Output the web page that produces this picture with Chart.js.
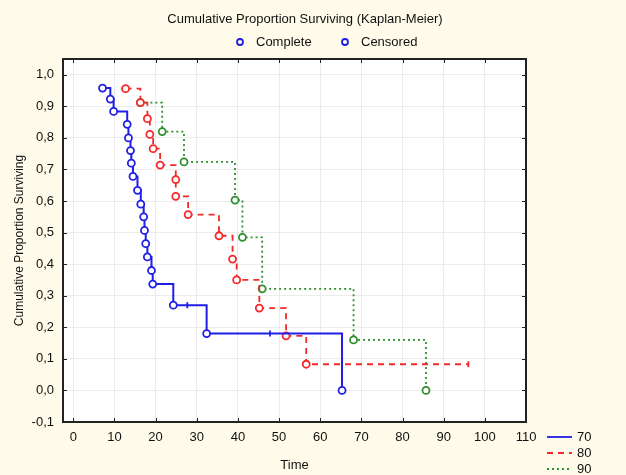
<!DOCTYPE html>
<html>
<head>
<meta charset="utf-8">
<script src="https://cdn.jsdelivr.net/npm/chart.js@4.4.1/dist/chart.umd.min.js"></script>
<style>
  html, body { margin: 0; padding: 0; background: #fffbea; }
  #wrap { width: 626px; height: 475px; position: relative; }
</style>
</head>
<body>
<div id="wrap"><canvas id="kmChart"></canvas></div>
<script>
// survival estimates (time, cumulative proportion, 1 = complete / 0 = censored)
const times70 = [7.1, 9.0, 9.8, 13.1, 13.4, 13.9, 14.1, 14.5, 15.6, 16.4, 17.1, 17.3, 17.6, 18.0, 19.0, 19.3, 24.3, 27.7, 32.4, 47.8, 65.3];
const surv70 = [0.958, 0.923, 0.884, 0.843, 0.80, 0.76, 0.72, 0.678, 0.634, 0.59, 0.55, 0.507, 0.465, 0.423, 0.38, 0.337, 0.27, 0.27, 0.18, 0.18, 0.0];
const status70 = [1, 1, 1, 1, 1, 1, 1, 1, 1, 1, 1, 1, 1, 1, 1, 1, 1, 0, 1, 0, 1];

const times80 = [12.7, 16.3, 18.0, 18.6, 19.4, 21.1, 24.9, 24.9, 27.9, 35.4, 38.7, 39.7, 45.2, 51.7, 56.6, 96.0];
const surv80 = [0.956, 0.912, 0.861, 0.811, 0.766, 0.714, 0.668, 0.615, 0.557, 0.49, 0.416, 0.35, 0.261, 0.173, 0.083, 0.083];
const status80 = [1, 1, 1, 1, 1, 1, 1, 1, 1, 1, 1, 1, 1, 1, 1, 0];

const times90 = [16.3, 21.6, 26.9, 39.3, 41.1, 45.9, 68.1, 85.7];
const surv90 = [0.912, 0.82, 0.724, 0.603, 0.485, 0.322, 0.16, 0.0];
const status90 = [1, 1, 1, 1, 1, 1, 1, 1];

const groupNames = ['70', '80', '90'];
const xTicks = [0, 10, 20, 30, 40, 50, 60, 70, 80, 90, 100, 110];
const yTicks = [-0.1, 0.0, 0.1, 0.2, 0.3, 0.4, 0.5, 0.6, 0.7, 0.8, 0.9, 1.0];
const yTickLabels = ['-0,1', '0,0', '0,1', '0,2', '0,3', '0,4', '0,5', '0,6', '0,7', '0,8', '0,9', '1,0'];

const FONT = 'Arial, "Liberation Sans", sans-serif';
const colors = ['#1f1fe6', '#f42828', '#2f8f2f'];
const dashes = [[], [6, 5], [2, 3]];

function makeSet(i, times, surv, status) {
    return {
        label: groupNames[i],
        data: times.map((t, k) => ({ x: t, y: surv[k] })),
        stepped: 'before',
        borderColor: colors[i],
        borderWidth: i === 0 ? 2 : 1.8,
        borderDash: dashes[i],
        pointStyle: status.map(s => s ? 'circle' : 'line'),
        pointRotation: status.map(s => s ? 0 : 90),
        pointRadius: status.map(s => s ? 3.5 : 3),
        pointBorderWidth: 1.8,
        pointBorderColor: colors[i],
        pointBackgroundColor: '#ffffff',
        fill: false
    };
}

const datasets = [
    makeSet(0, times70, surv70, status70),
    makeSet(1, times80, surv80, status80),
    makeSet(2, times90, surv90, status90)
];

// white plot area, frame with inward ticks, title and both legends
const decorPlugin = {
    id: 'decor',
    beforeDraw(chart) {
        const { ctx, chartArea: a } = chart;
        ctx.save();
        ctx.fillStyle = '#ffffff';
        ctx.fillRect(a.left, a.top, a.right - a.left, a.bottom - a.top);
        ctx.restore();
    },
    afterDraw(chart) {
        const { ctx, chartArea: a, scales } = chart;
        ctx.save();
        ctx.strokeStyle = '#222';
        ctx.lineWidth = 1;
        xTicks.forEach(v => {
            const px = Math.round(scales.x.getPixelForValue(v)) + 0.5;
            ctx.beginPath();
            ctx.moveTo(px, a.bottom); ctx.lineTo(px, a.bottom - 4);
            ctx.moveTo(px, a.top); ctx.lineTo(px, a.top + 4);
            ctx.stroke();
        });
        yTicks.forEach(v => {
            const py = Math.round(scales.y.getPixelForValue(v)) + 0.5;
            ctx.beginPath();
            ctx.moveTo(a.left, py); ctx.lineTo(a.left + 4, py);
            ctx.moveTo(a.right, py); ctx.lineTo(a.right - 4, py);
            ctx.stroke();
        });
        ctx.lineWidth = 2;
        ctx.strokeRect(a.left, a.top, a.right - a.left, a.bottom - a.top);

        ctx.fillStyle = '#111';
        ctx.font = '13px ' + FONT;
        ctx.textAlign = 'center';
        ctx.textBaseline = 'middle';
        ctx.fillText('Cumulative Proportion Surviving (Kaplan-Meier)', 305, 19);

        // top legend: point symbols
        ctx.textAlign = 'left';
        [['Complete', 240], ['Censored', 345]].forEach(([txt, x]) => {
            ctx.beginPath();
            ctx.arc(x, 42, 3, 0, Math.PI * 2);
            ctx.strokeStyle = colors[0];
            ctx.lineWidth = 1.8;
            ctx.stroke();
            ctx.fillText(txt, x + 16, 42);
        });

        // right legend: line styles per group
        datasets.forEach((ds, i) => {
            const y = 437 + i * 16;
            ctx.beginPath();
            ctx.setLineDash(dashes[i]);
            ctx.strokeStyle = colors[i];
            ctx.lineWidth = 1.8;
            ctx.moveTo(547, y); ctx.lineTo(572, y);
            ctx.stroke();
            ctx.setLineDash([]);
            ctx.fillStyle = '#111';
            ctx.fillText(ds.label, 577, y);
        });
        ctx.restore();
    }
};

new Chart(document.getElementById('kmChart'), {
    type: 'line',
    data: { datasets: datasets },
    options: {
        responsive: true,
        maintainAspectRatio: false,
        animation: false,
        layout: { padding: { top: 59, right: 100, bottom: 0, left: 0 } },
        plugins: {
            legend: { display: false },
            title: { display: false },
            tooltip: { enabled: false }
        },
        scales: {
            x: {
                type: 'linear',
                min: -2.5,
                max: 110,
                afterBuildTicks: s => { s.ticks = xTicks.map(v => ({ value: v })); },
                afterFit: s => { s.height = 53; },
                grid: { color: '#ececec', drawTicks: false },
                border: { display: false },
                ticks: { padding: 8, color: '#111', font: { family: FONT, size: 13 } },
                title: { display: true, text: 'Time', color: '#111', font: { family: FONT, size: 13 }, padding: { top: 0, bottom: 2 } }
            },
            y: {
                type: 'linear',
                min: -0.1,
                max: 1.05,
                afterBuildTicks: s => { s.ticks = yTicks.map(v => ({ value: v })); },
                afterFit: s => { s.width = 63; },
                grid: { color: '#ececec', drawTicks: false },
                border: { display: false },
                ticks: {
                    padding: 9,
                    color: '#111',
                    font: { family: FONT, size: 13 },
                    callback: (v, idx) => yTickLabels[idx]
                },
                title: { display: true, text: 'Cumulative Proportion Surviving', color: '#111', font: { family: FONT, size: 12 }, padding: { top: 12, bottom: 0 } }
            }
        }
    },
    plugins: [decorPlugin]
});
</script>
</body>
</html>
